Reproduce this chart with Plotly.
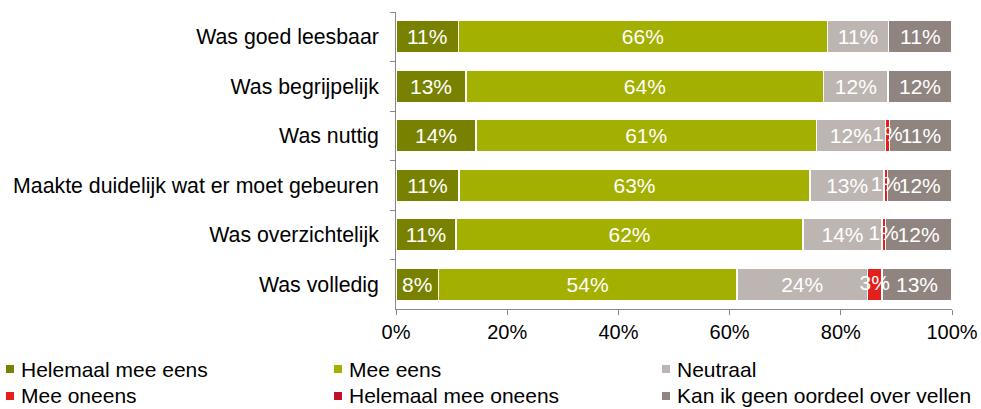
import plotly.graph_objects as go

# categories, top to bottom
categories = [
    "Was goed leesbaar",
    "Was begrijpelijk",
    "Was nuttig",
    "Maakte duidelijk wat er moet gebeuren",
    "Was overzichtelijk",
    "Was volledig",
]

series_names = [
    "Helemaal mee eens",
    "Mee eens",
    "Neutraal",
    "Mee oneens",
    "Helemaal mee oneens",
    "Kan ik geen oordeel over vellen",
]

# percentages per category, same order as categories
helemaal_eens = [11.2, 12.6, 14.4, 11.3, 10.8, 7.6]
mee_eens = [66.4, 64.3, 61.2, 63.2, 62.4, 53.7]
neutraal = [11.0, 11.6, 12.4, 13.3, 14.2, 23.5]
mee_oneens = [0.0, 0.0, 0.8, 0.6, 0.6, 2.6]
helemaal_oneens = [0.0, 0.0, 0.0, 0.0, 0.0, 0.0]
geen_oordeel = [11.4, 11.5, 11.2, 11.6, 12.0, 12.6]

x_ticks = [0, 20, 40, 60, 80, 100]
x_tick_labels = ["0%", "20%", "40%", "60%", "80%", "100%"]

colors = ["#788200", "#a3b000", "#bdb5b1", "#e3201b", "#be1328", "#8f8480"]
all_values = [helemaal_eens, mee_eens, neutraal, mee_oneens, helemaal_oneens, geen_oordeel]

font_family = "Liberation Sans, Arial, sans-serif"

W, H = 981, 409
L, R, T, B = 396, 29, 12, 100
plot_w = W - L - R
plot_h = H - T - B

fig = go.Figure()
for i, (name, vals, col) in enumerate(zip(series_names, all_values, colors)):
    tiny = i in (3, 4)  # thin red slices: labels drawn on top afterwards
    fig.add_trace(go.Bar(
        y=categories,
        x=vals,
        name=name,
        orientation="h",
        marker=dict(color=col, line=dict(color="white", width=1.5)),
        text=None if tiny else [f"{v:.0f}%" if v > 0 else "" for v in vals],
        textposition="inside",
        insidetextanchor="middle",
        textangle=0,
        constraintext="none",
        textfont=dict(color="white", size=21, family=font_family),
        hoverinfo="name+x",
        showlegend=False,
    ))

# labels of the thin red slices overflow their bars, so put them on top
for idx in (3, 4):
    starts = [sum(v[k] for v in all_values[:idx]) for k in range(len(categories))]
    vals = all_values[idx]
    fig.add_trace(go.Scatter(
        x=[s + v / 2 for s, v in zip(starts, vals)],
        y=categories,
        mode="text",
        text=[f"{v:.0f}%" if v > 0 else "" for v in vals],
        textposition="middle center",
        textfont=dict(color="white", size=21, family=font_family),
        hoverinfo="skip",
        showlegend=False,
    ))

# legend: 3 columns, 2 rows below the chart
leg_x = [6, 334, 662]
leg_y = [369, 396]
for i, (name, col) in enumerate(zip(series_names, colors)):
    px = leg_x[i % 3]
    py = leg_y[i // 3]
    x0 = (px - L) / plot_w
    x1 = (px + 8 - L) / plot_w
    y0 = (T + plot_h - (py + 4)) / plot_h
    y1 = (T + plot_h - (py - 4)) / plot_h
    fig.add_shape(type="rect", xref="paper", yref="paper",
                  x0=x0, x1=x1, y0=y0, y1=y1,
                  fillcolor=col, line=dict(width=0))
    fig.add_annotation(
        x=(px + 14 - L) / plot_w, y=(T + plot_h - py) / plot_h,
        xref="paper", yref="paper", xanchor="left", yanchor="middle",
        text=name, showarrow=False, borderpad=0,
        font=dict(size=21, family=font_family, color="black"),
    )

fig.update_layout(
    template="none",
    barmode="stack",
    bargap=0.35,
    width=W,
    height=H,
    margin=dict(l=L, r=R, t=T, b=B, autoexpand=False),
    paper_bgcolor="white",
    plot_bgcolor="white",
    font=dict(family=font_family, size=20, color="black"),
    showlegend=False,
    uniformtext=dict(mode=False),
)

fig.update_xaxes(
    range=[0, 100],
    tickvals=x_ticks,
    ticktext=x_tick_labels,
    showgrid=False,
    zeroline=False,
    showline=True,
    automargin=False,
    linecolor="#888888",
    linewidth=1,
    ticks="outside",
    ticklen=5,
    tickcolor="#888888",
    tickfont=dict(size=20),
)

fig.update_yaxes(
    categoryorder="array",
    categoryarray=categories,
    autorange="reversed",
    showgrid=False,
    zeroline=False,
    showline=True,
    automargin=False,
    linecolor="#888888",
    linewidth=1,
    ticks="outside",
    ticklen=5,
    tickcolor="#888888",
    tickson="boundaries",
    ticksuffix="  ",
    tickfont=dict(size=21.3),
)

# drop the default 8px body margin so the figure sits at the window corner
fig.write_html("out.html", config={"displayModeBar": False},
               post_script="document.body.style.margin='0px';")
